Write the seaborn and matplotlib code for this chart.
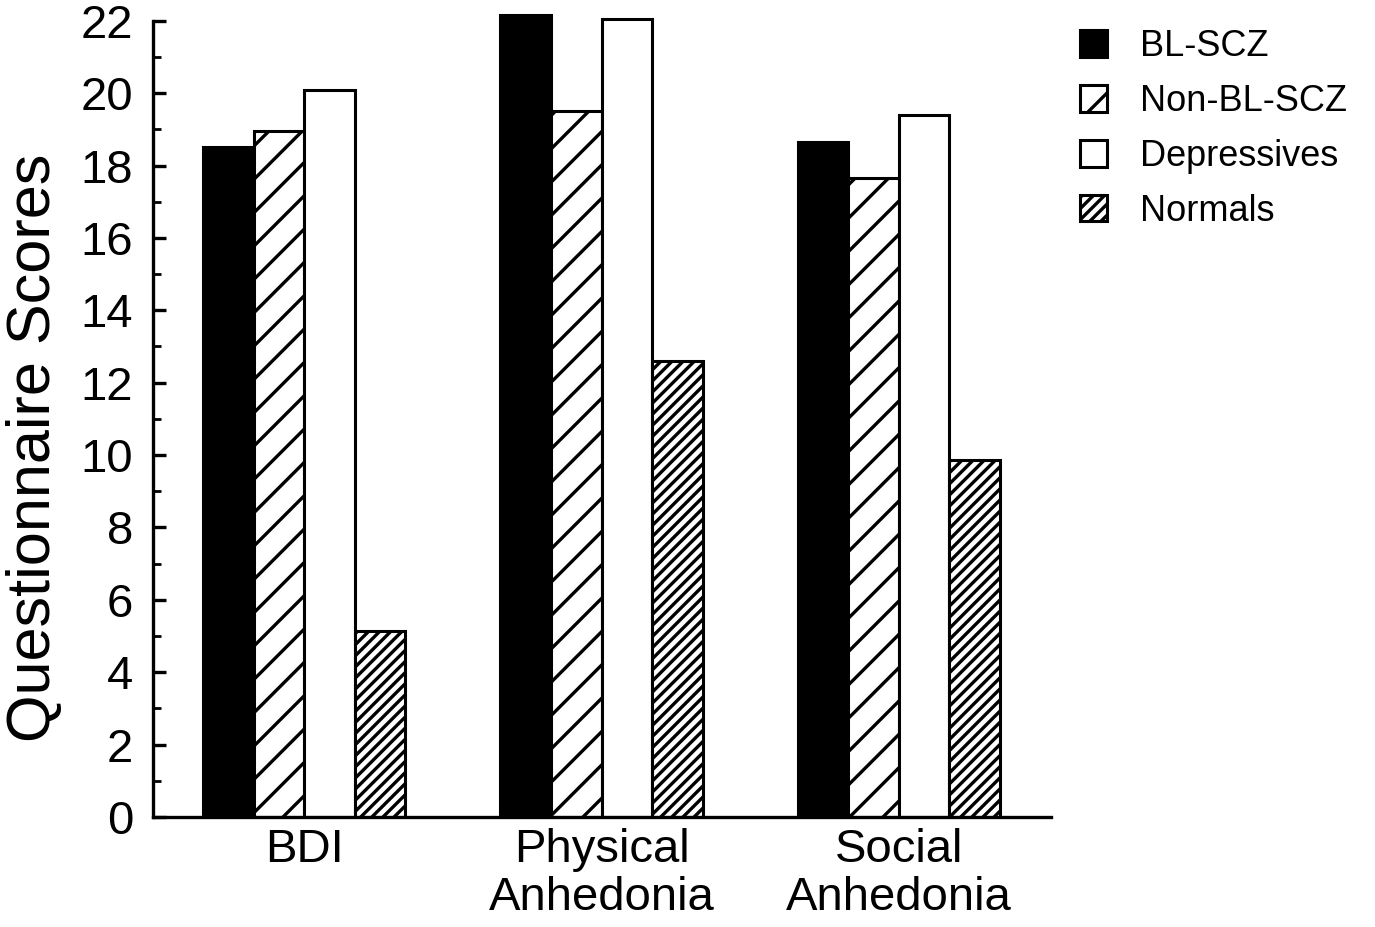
import numpy as np
import pandas as pd
import matplotlib as mpl
import matplotlib.pyplot as plt
from matplotlib.patches import Patch
import seaborn as sns

measures = ["BDI", "Physical\nAnhedonia", "Social\nAnhedonia"]
groups = ["BL-SCZ", "Non-BL-SCZ", "Depressives", "Normals"]
bl_scz = [18.5, 22.15, 18.65]
non_bl_scz = [18.95, 19.5, 17.65]
depressives = [20.1, 22.05, 19.4]
normals = [5.15, 12.6, 9.85]

rows = []
for g, vals in zip(groups, [bl_scz, non_bl_scz, depressives, normals]):
    for m, v in zip(measures, vals):
        rows.append({"measure": m, "group": g, "score": v})
df = pd.DataFrame(rows)

sns.set_style("ticks")
plt.rcParams['font.family'] = ['Liberation Sans', 'DejaVu Sans']
plt.rcParams['hatch.linewidth'] = 2.4
plt.rcParams['hatch.color'] = 'black'
for key in ['text.color', 'axes.labelcolor', 'xtick.color', 'ytick.color',
            'axes.edgecolor']:
    plt.rcParams[key] = 'black'

fills = {"BL-SCZ": "black", "Non-BL-SCZ": "white", "Depressives": "white", "Normals": "white"}
hatches = {"BL-SCZ": "", "Non-BL-SCZ": "/", "Depressives": "", "Normals": "///"}

fig = plt.figure(figsize=(13.75, 9.27), dpi=100)
ax = fig.add_axes([0.111, 0.1187, 0.653, 0.8706])

sns.barplot(data=df, x="measure", y="score", hue="group", hue_order=groups,
            palette=fills, width=0.68, edgecolor="black", linewidth=2.2,
            legend=False, ax=ax)

for cont, g in zip(ax.containers, groups):
    for bar in cont:
        bar.set_hatch(hatches[g])
        bar.set_edgecolor("black")

ax.set_xlim(-0.51, 2.51)
ax.set_ylim(0, 22.3)
ax.set_yticks(np.arange(0, 23, 2))
ax.set_yticks(np.arange(1, 22, 2), minor=True)
ax.spines['left'].set_bounds(0, 22)
ax.spines['left'].set_linewidth(2.4)
ax.spines['bottom'].set_linewidth(2.4)
sns.despine(ax=ax)

ax.tick_params(axis='y', which='major', direction='in', length=9, width=2.4,
               labelsize=34, pad=14, colors='black')
ax.tick_params(axis='y', which='minor', direction='in', length=6, width=2,
               colors='black')
ax.tick_params(axis='x', length=0, labelsize=34, pad=8, colors='black')
for lab in ax.get_xticklabels():
    lab.set_linespacing(1.12)

ax.set_xlabel("")
ax.set_ylabel("Questionnaire Scores", fontsize=44)
ax.yaxis.set_label_coords(-0.10, 0.458)

handles = [Patch(facecolor=fills[g], edgecolor="black", hatch=hatches[g],
                 linewidth=2.2, label=g) for g in groups]
fig.legend(handles=handles, loc="upper left", bbox_to_anchor=(0.775, 0.984),
           frameon=False, fontsize=26, handlelength=0.75, handleheight=0.75,
           handletextpad=0.9, labelspacing=0.55, borderaxespad=0)

fig.savefig("out.png", dpi=100)
